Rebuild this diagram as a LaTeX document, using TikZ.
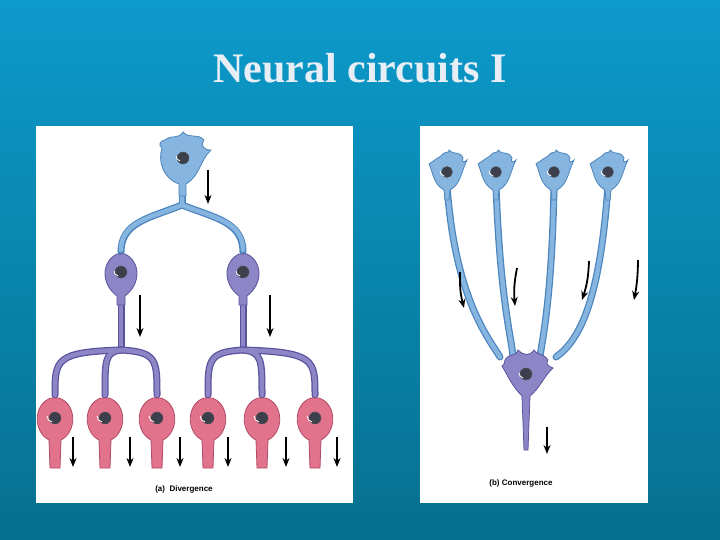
\documentclass[tikz,border=0pt]{standalone}
\usetikzlibrary{arrows.meta}
\usepackage{fontspec}
\setmainfont{Liberation Serif}
\setsansfont{Liberation Sans}
\definecolor{bgtop}{HTML}{0C9ACB}
\definecolor{bgbot}{HTML}{06708F}
\definecolor{bfill}{HTML}{86B5E0}
\definecolor{bline}{HTML}{4C85BD}
\definecolor{pfill}{HTML}{8C86C6}
\definecolor{pline}{HTML}{5A529C}
\definecolor{rfill}{HTML}{E2738D}
\definecolor{rline}{HTML}{B24A66}
\definecolor{nuc}{HTML}{3C404C}
\definecolor{titlec}{HTML}{E8EEF6}
\tikzset{
 ax/.style={line width=#1, line cap=round},
 flow/.style={-{Stealth[length=9pt,width=7pt]}, line width=1.8pt, black},
 captext/.style={font=\sffamily\bfseries\fontsize{8}{9}\selectfont},
 nucl/.style={fill=nuc, draw=black!70, line width=0.4pt},
}
\begin{document}
\begin{tikzpicture}[x=1pt,y=-1pt]
\useasboundingbox (0,0) rectangle (720,540);
\shade[top color=bgtop,bottom color=bgbot] (0,0) rectangle (720,540);
\node[font=\bfseries\fontsize{42}{46}\selectfont, text=titlec] (title) at (360,68) {Neural circuits I};
\node[fill=white,minimum width=317,minimum height=377,inner sep=0,anchor=north west] (pa) at (36,126) {};
\node[fill=white,minimum width=228,minimum height=377,inner sep=0,anchor=north west] (pb) at (420,126) {};
% ---------- left: divergence
\begin{scope}
\draw[bline,ax=7pt] (182,165) -- (182,205);
\draw[bline,ax=7pt] (182,205) .. controls (150,218) and (121,222) .. (121,252);
\draw[bline,ax=7pt] (182,205) .. controls (215,218) and (243,222) .. (243,252);
\draw[bfill,ax=4.5pt] (182,165) -- (182,205) .. controls (150,218) and (121,222) .. (121,250);
\draw[bfill,ax=4.5pt] (182,205) .. controls (215,218) and (243,222) .. (243,250);
\fill[bfill,draw=bline,line width=0.8pt] (165,140) .. controls (172,134) and (178,140) .. (183,132) .. controls (190,140) and (196,132) .. (204,140) .. controls (200,146) and (204,150) .. (211,150) .. controls (200,160) and (200,176) .. (186,184) -- (186,196) -- (179,196) -- (179,184) .. controls (162,178) and (158,160) .. (162,148) .. controls (158,146) and (160,140) .. (165,140) -- cycle;
\fill[nucl] (183,158) circle (6);
\draw[white,line width=0.8pt] (176,156) arc (180:100:5);
\foreach \m in {121,243}{
 \draw[pline,ax=7pt] (\m,285) -- (\m,350);
 \draw[pfill,ax=4.5pt] (\m,285) -- (\m,350);
}
\foreach \m/\a/\b/\c in {121/55/105/157, 243/208/262/315}{
 \foreach \t in {\a,\b,\c}{
  \draw[pline,ax=7pt] (\m,350) .. controls (\t,352) and (\t,360) .. (\t,395);
 }
 \foreach \t in {\a,\b,\c}{
  \draw[pfill,ax=4.5pt] (\m,350) .. controls (\t,352) and (\t,360) .. (\t,395);
 }
}
\foreach \m in {121,243}{
 \fill[pfill,draw=pline,line width=0.8pt] (\m-4,254) -- (\m+4,254) .. controls (\m+20,262) and (\m+20,284) .. (\m+4,296) -- (\m+4,305) -- (\m-4,305) -- (\m-4,296) .. controls (\m-20,284) and (\m-20,262) .. (\m-4,254) -- cycle;
 \fill[nucl] (\m,272) circle (6);
 \draw[white,line width=0.8pt] (\m-7,271) arc (180:100:5);
}
\foreach \t in {55,105,157,208,262,315}{
 \fill[rfill,draw=rline,line width=0.8pt] (\t-4,398) -- (\t+4,398) .. controls (\t+22,404) and (\t+22,432) .. (\t+6,440) -- (\t+5,468) -- (\t-5,468) -- (\t-6,440) .. controls (\t-22,432) and (\t-22,404) .. (\t-4,398) -- cycle;
 \fill[nucl] (\t,418) circle (6);
 \draw[white,line width=0.8pt] (\t-8,416) arc (180:100:6);
}
\foreach \x/\ya/\yb in {208/170/204, 140/295/337, 270/295/337, 73/437/467, 130/437/467, 180/437/467, 228/437/467, 286/437/467, 337/437/467}{
 \coordinate (fa\x) at (\x,\ya); \coordinate (fb\x) at (\x,\yb);
 \draw[flow] (fa\x) -- (fb\x);
}
\node[captext] (la) at (184,489) {(a)\ \ Divergence};
\end{scope}
% ---------- right: convergence
\begin{scope}
\foreach \s/\t/\ca/\cb in {447/500/455/490, 496/513/500/512, 554/540/552/542, 608/556/600/580}{
 \draw[bline,ax=7pt] (\s,185) .. controls (\ca,300) and (\cb,340) .. (\t,357);
}
\foreach \s/\t/\ca/\cb in {447/500/455/490, 496/513/500/512, 554/540/552/542, 608/556/600/580}{
 \draw[bfill,ax=4.5pt] (\s,185) .. controls (\ca,300) and (\cb,340) .. (\t,357);
}
\foreach \s in {447,496,554,608}{
 \fill[bfill,draw=bline,line width=0.8pt] (\s-18,164) .. controls (\s-12,160) and (\s-10,158) .. (\s-6,156) .. controls (\s-2,150) and (\s+3,154) .. (\s+2,150) .. controls (\s+8,156) and (\s+12,150) .. (\s+16,158) .. controls (\s+14,164) and (\s+18,162) .. (\s+20,160) .. controls (\s+14,172) and (\s+14,184) .. (\s+3,190) -- (\s+2,200) -- (\s-2,200) -- (\s-3,190) .. controls (\s-14,184) and (\s-14,172) .. (\s-18,164) -- cycle;
 \fill[nucl] (\s,172) circle (5.5);
 \draw[white,line width=0.8pt] (\s-7,171) arc (180:100:5);
}
\fill[pfill,draw=pline,line width=0.8pt] (505,360) .. controls (510,352) and (515,358) .. (518,350) .. controls (524,356) and (530,356) .. (534,350) .. controls (538,356) and (542,352) .. (548,360) .. controls (545,364) and (548,366) .. (553,368) .. controls (544,376) and (540,388) .. (530,396) -- (528,450) -- (524,450) -- (522,396) .. controls (512,386) and (508,376) .. (502,366) .. controls (506,364) and (503,362) .. (505,360) -- cycle;
\fill[nucl] (526,374) circle (6);
\draw[white,line width=0.8pt] (519,373) arc (180:100:5);
\coordinate (c1a) at (460,272); \coordinate (c1b) at (464,308);
\coordinate (c2a) at (517,268); \coordinate (c2b) at (515,306);
\coordinate (c3a) at (589,261); \coordinate (c3b) at (582,300);
\coordinate (c4a) at (638,260); \coordinate (c4b) at (634,300);
\draw[flow] (c1a) to[bend right=8] (c1b);
\draw[flow] (c2a) to[bend right=8] (c2b);
\draw[flow] (c3a) to[bend left=8] (c3b);
\draw[flow] (c4a) to[bend left=5] (c4b);
\coordinate (c5a) at (547,427); \coordinate (c5b) at (547,454);
\draw[flow] (c5a) -- (c5b);
\node[captext] (lb) at (521,483) {(b) Convergence};
\end{scope}
\end{tikzpicture}
\end{document}
